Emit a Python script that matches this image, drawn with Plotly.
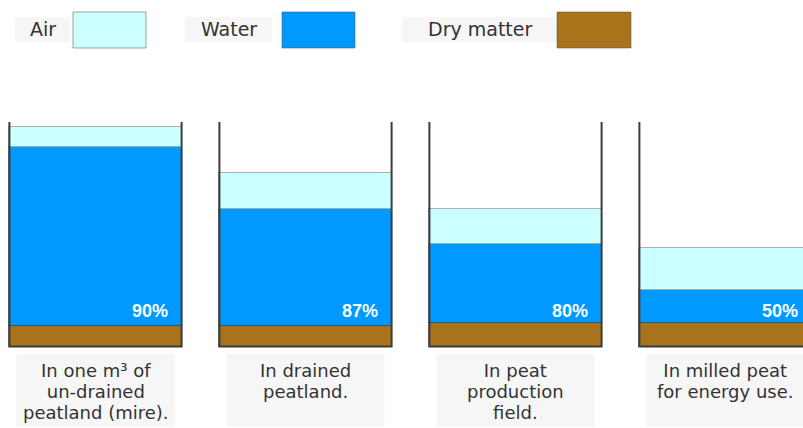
import plotly.graph_objects as go

# Share of one cubic metre taken by each component (bottom to top)
dry_matter = [9.5, 9.5, 10.5, 10.5]
water = [81, 53, 36, 15]
air = [9.5, 16.5, 16, 19.5]

# Moisture content printed on each water layer
moisture_pct = [90, 87, 80, 50]

# Caption under each container, one entry per line
caption_lines = [
    ["In one m³ of", "un-drained", "peatland (mire)."],
    ["In drained", "peatland."],
    ["In peat", "production", "field."],
    ["In milled peat", "for energy use."],
]

legend_names = ["Air", "Water", "Dry matter"]

# Styling
W, H = 803, 428
COL_AIR = "#ccffff"
COL_WATER = "#0099ff"
COL_DRY = "#a8731a"
WALL_COL = "#3c3c3c"
TEXT_COL = "#333333"
BOX_COL = "#f6f6f6"
FONT = "DejaVu Sans"
BAR_W = 0.82
WALL_TOP = 102          # container wall height in data units
PX_PER_UNIT = 2.2       # vertical scale
BASE_PX = 346.5         # pixel row of the container floor
STEP_PX = 210           # horizontal distance between containers
FIRST_CENTER_PX = 95.5

x = list(range(len(water)))

# axis ranges derived from the pixel layout
x0 = -FIRST_CENTER_PX / STEP_PX
x1 = x0 + W / STEP_PX
y0 = (BASE_PX - H) / PX_PER_UNIT
y1 = BASE_PX / PX_PER_UNIT


def py(p):
    """pixel row -> paper y"""
    return 1 - p / H


def px(p):
    """pixel column -> paper x"""
    return p / W


fig = go.Figure()

seg_line = dict(color="rgba(40,40,40,0.55)", width=1)
fig.add_trace(go.Bar(x=x, y=dry_matter, name="Dry matter", width=BAR_W,
                     marker=dict(color=COL_DRY, line=seg_line), showlegend=False,
                     hoverinfo="skip"))
fig.add_trace(go.Bar(x=x, y=water, name="Water", width=BAR_W,
                     marker=dict(color=COL_WATER, line=seg_line), showlegend=False,
                     hoverinfo="skip"))
fig.add_trace(go.Bar(x=x, y=air, name="Air", width=BAR_W,
                     marker=dict(color=COL_AIR, line=dict(color="rgba(120,120,120,0.6)", width=1)),
                     showlegend=False, hoverinfo="skip"))

# container walls and floor
hw = BAR_W / 2
wx, wy = [], []
for i in x:
    wx += [i - hw, i - hw, i + hw, i + hw, None]
    wy += [WALL_TOP, 0, 0, WALL_TOP, None]
fig.add_trace(go.Scatter(x=wx, y=wy, mode="lines", showlegend=False,
                         line=dict(color=WALL_COL, width=2), hoverinfo="skip"))

annotations = []
shapes = []

# moisture labels inside the water layer, right-aligned near the right wall
half_bar_px = hw * STEP_PX
for i, pct in zip(x, moisture_pct):
    annotations.append(dict(
        x=i, y=(BASE_PX - 310.5) / PX_PER_UNIT, xref="x", yref="y",
        text=f"{pct}%", showarrow=False, xanchor="right", yanchor="middle",
        xshift=half_bar_px - 13, borderpad=0,
        font=dict(family="Liberation Sans", size=18, color="white", weight="bold"),
    ))

# captions under the containers: compact line spacing via a smaller base size
CAP_W = 158 / STEP_PX
for i, lines in zip(x, caption_lines):
    shapes.append(dict(type="rect", xref="x", yref="paper",
                       x0=i - CAP_W / 2, x1=i + CAP_W / 2, y0=py(427), y1=py(354),
                       fillcolor=BOX_COL, line=dict(width=0), layer="below"))
    text = "<br>".join(f'<span style="font-size:18px">{ln}</span>' for ln in lines)
    annotations.append(dict(
        x=i, y=py(359), xref="x", yref="paper", text=text,
        showarrow=False, xanchor="center", yanchor="top", align="center",
        borderpad=0, font=dict(family=FONT, size=16.3, color=TEXT_COL),
    ))

# legend: label box followed by a colour swatch
legend_layout = [
    # (label box x0, x1, swatch x0, x1)
    (15, 70, 73, 146),
    (185, 272, 282, 355),
    (402, 557, 557, 631),
]
legend_cols = [COL_AIR, COL_WATER, COL_DRY]
for name, col, (bx0, bx1, sx0, sx1) in zip(legend_names, legend_cols, legend_layout):
    shapes.append(dict(type="rect", xref="paper", yref="paper",
                       x0=px(bx0), x1=px(bx1), y0=py(42), y1=py(17),
                       fillcolor=BOX_COL, line=dict(width=0), layer="below"))
    shapes.append(dict(type="rect", xref="paper", yref="paper",
                       x0=px(sx0), x1=px(sx1), y0=py(48), y1=py(12),
                       fillcolor=col, line=dict(color="rgba(90,90,90,0.55)", width=1)))
    annotations.append(dict(
        x=px((bx0 + bx1) / 2), y=py(29), xref="paper", yref="paper", text=name,
        showarrow=False, xanchor="center", yanchor="middle", borderpad=0,
        font=dict(family=FONT, size=19, color=TEXT_COL),
    ))

fig.update_layout(
    width=W, height=H,
    margin=dict(l=0, r=0, t=0, b=0, pad=0),
    paper_bgcolor="white", plot_bgcolor="white",
    barmode="stack", bargap=0,
    xaxis=dict(range=[x0, x1], visible=False, fixedrange=True),
    yaxis=dict(range=[y0, y1], visible=False, fixedrange=True),
    shapes=shapes, annotations=annotations,
    showlegend=False,
)

fig.write_html("out.html", config={"displayModeBar": False})
